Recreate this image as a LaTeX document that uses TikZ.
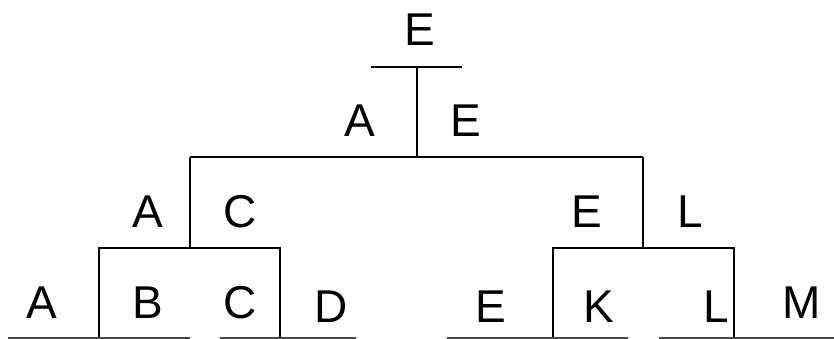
\documentclass[tikz,border=0pt]{standalone}
\usepackage{fontspec}
\setmainfont{Liberation Sans}
\usepackage{tikz}

\begin{document}
\begin{tikzpicture}[x=1pt, y=-1pt,
		lbl/.style={anchor=base, inner sep=0pt, font=\fontsize{46}{50}\selectfont},
		bar/.style={line width=1.3pt, color=black},
		midbar/.style={line width=1.8pt, color=black},
		floor/.style={line width=1.6pt, color=black!72}]
		%%%%% START %%%%%
		
		\useasboundingbox (0, 0) rectangle (834, 339);
		
		\node[lbl] (champ) at (420, 46) {E};
		\node[lbl] (semiA) at (360, 137) {A};
		\node[lbl] (semiE) at (466, 137) {E};
		\node[lbl] (qfA) at (148, 227) {A};
		\node[lbl] (qfC) at (240, 227) {C};
		\node[lbl] (qfE) at (587, 227) {E};
		\node[lbl] (qfL) at (690, 227) {L};
		
		\node[lbl] (pA) at (42, 318) {A};
		\node[lbl] (pB) at (148, 318) {B};
		\node[lbl] (pC) at (240, 318) {C};
		\node[lbl] (pD) at (331, 322) {D};
		\node[lbl] (pE) at (491, 322) {E};
		\node[lbl] (pK) at (599, 322) {K};
		\node[lbl] (pL) at (716, 322) {L};
		\node[lbl] (pM) at (802, 318) {M};
		
		\coordinate (topL) at (371, 67);
		\coordinate (topR) at (462, 67);
		\coordinate (top) at (417, 67);
		\coordinate (fin) at (417, 157);
		\coordinate (finL) at (190, 157);
		\coordinate (finR) at (643, 157);
		\coordinate (semL) at (190, 248);
		\coordinate (semR) at (643, 248);
		
		\coordinate (brLl) at (99, 248);
		\coordinate (brLr) at (280, 248);
		\coordinate (brRl) at (553, 248);
		\coordinate (brRr) at (734, 248);
		\coordinate (ftLl) at (99, 338);
		\coordinate (ftLr) at (280, 338);
		\coordinate (ftRl) at (553, 338);
		\coordinate (ftRr) at (734, 338);
		
		\draw[bar] (topL) -- (topR);
		\draw[bar] (top) -- (fin);
		\draw[midbar] (finL) -- (finR);
		\draw[bar] (finL) -- (semL);
		\draw[bar] (finR) -- (semR);
		
		\draw[bar] (ftLl) -- (brLl) -- (brLr) -- (ftLr);
		\draw[bar] (ftRl) -- (brRl) -- (brRr) -- (ftRr);
		
		\draw[floor] (8, 338) -- (190, 338);
		\draw[floor] (220, 338) -- (356, 338);
		\draw[floor] (447, 338) -- (628, 338);
		\draw[floor] (659, 338) -- (834, 338);
		
		%%%%% END %%%%%
	\end{tikzpicture}
\end{document}
